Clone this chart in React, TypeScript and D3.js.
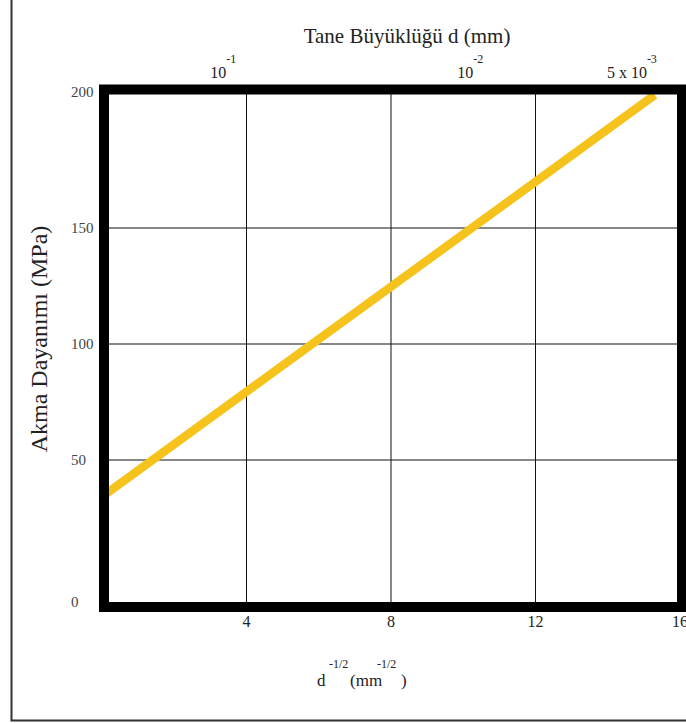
import React from 'react';
import * as d3 from 'd3';

// values
const xTicks = [4, 8, 12, 16];
const xGrid = [4, 8, 12];
const yTicks = [0, 50, 100, 150, 200];
const yGrid = [50, 100, 150];
const topTicks = [
  { d: 0.1, base: '10', exp: '-1' },
  { d: 0.01, base: '10', exp: '-2' },
  { d: 0.005, base: '5 x 10', exp: '-3' },
];
const lineX = [0, 15.3];
const lineY = [37.5, 198];

const W = 686;
const H = 723;
const frame = { left: 104, right: 682, top: 89.5, bottom: 607 };
const serif = '"Liberation Serif", "Times New Roman", serif';

const App = () => {
  const x = d3.scaleLinear().domain([0, 16]).range([102, 680]);
  // the original drawing is not evenly spaced, so the y scale is piecewise
  const y = d3.scaleLinear().domain(yTicks).range([frame.bottom, 460, 344, 228, frame.top]);

  const line = d3.line<number>()
    .x((_, i) => x(lineX[i]))
    .y(d => y(d));

  return (
    <svg width={W} height={H} style={{ position: 'absolute', left: 0, top: 0, background: '#fff' }}
      fontFamily={serif}>
      {/* outer border */}
      <path d={`M11.5,0V720.5H${W}`} fill="none" stroke="#333" strokeWidth={2} />

      {/* grid */}
      {xGrid.map(v => (
        <line key={'gx' + v} x1={x(v)} x2={x(v)} y1={frame.top} y2={frame.bottom} stroke="#111" strokeWidth={1} />
      ))}
      {yGrid.map(v => (
        <line key={'gy' + v} x1={frame.left} x2={frame.right} y1={y(v)} y2={y(v)} stroke="#111" strokeWidth={1} />
      ))}

      {/* Hall-Petch line */}
      <path d={line(lineY) || ''} fill="none" stroke="#F6C21C" strokeWidth={8.5} strokeLinecap="butt" />

      {/* thick frame */}
      <rect x={frame.left} y={frame.top} width={frame.right - frame.left} height={frame.bottom - frame.top}
        fill="none" stroke="#000" strokeWidth={10} />

      {/* y tick labels */}
      {yTicks.map(v => (
        <text key={'yt' + v} x={71} y={Math.min(Math.max(y(v), 92), 602)} dy="0.35em"
          fontSize={15} fill="#444">{v}</text>
      ))}

      {/* bottom tick labels */}
      {xTicks.map(v => (
        <text key={'xt' + v} x={x(v)} y={627} textAnchor="middle" fontSize={16} fill="#222">{v}</text>
      ))}

      {/* top tick labels: grain size d */}
      {topTicks.map(t => (
        <text key={'tt' + t.d} x={x(1 / Math.sqrt(t.d)) - 6} y={78} fontSize={16} fill="#222">
          {t.base}
          <tspan dy={-15} fontSize={12}>{t.exp}</tspan>
        </text>
      ))}

      {/* titles */}
      <text x={407} y={43} textAnchor="middle" fontSize={21} fill="#222">Tane Büyüklüğü d (mm)</text>
      <text transform="translate(47,339) rotate(-90)" textAnchor="middle" fontSize={24} fill="#222">
        Akma Dayanımı (MPa)
      </text>

      <g fill="#222">
        <text x={317} y={686} fontSize={17}>d</text>
        <text x={329} y={668} fontSize={12}>-1/2</text>
        <text x={350} y={686} fontSize={17}>(mm</text>
        <text x={377} y={668} fontSize={12}>-1/2</text>
        <text x={401} y={686} fontSize={17}>)</text>
      </g>
    </svg>
  );
};

export default App;
